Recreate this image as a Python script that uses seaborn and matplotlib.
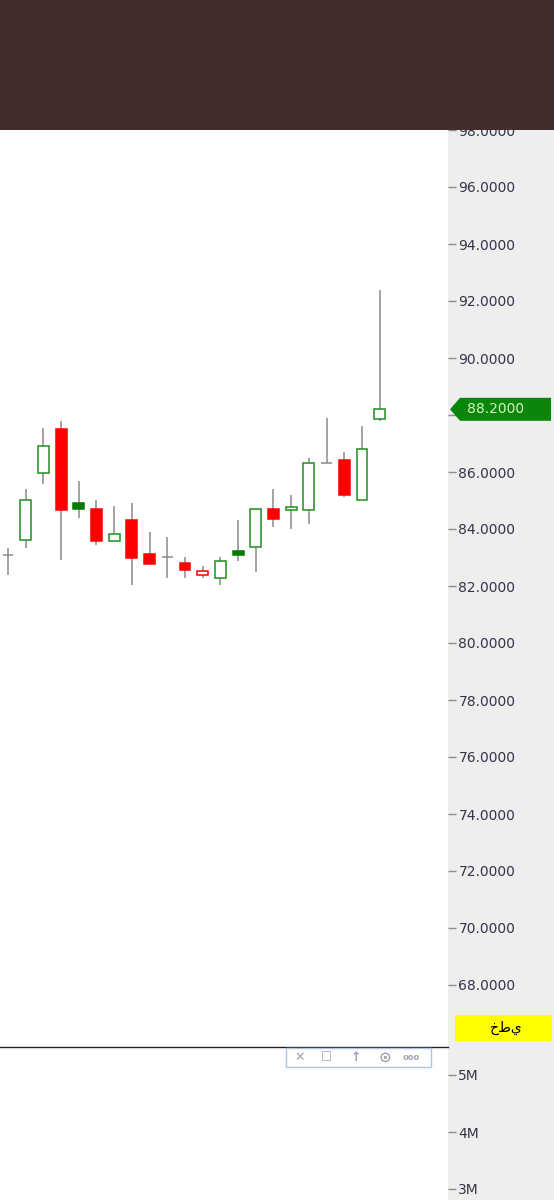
import numpy as np
import matplotlib
matplotlib.use('Agg')
import matplotlib.pyplot as plt
import matplotlib.transforms as mtransforms
from matplotlib.patches import Rectangle, Polygon
import seaborn as sns

opens = [83.09, 83.61, 85.96, 87.51, 84.91, 84.70, 83.58, 84.32, 83.12, 83.02, 82.81,
         82.39, 82.28, 83.23, 83.37, 84.70, 84.67, 84.67, 86.32, 86.42, 85.02, 87.86]
closes = [83.09, 85.02, 86.91, 84.65, 84.70, 83.58, 83.82, 82.98, 82.77, 83.02, 82.56,
          82.53, 82.88, 83.09, 84.70, 84.35, 84.77, 86.32, 86.32, 85.19, 86.81, 88.20]
highs = [83.33, 85.40, 87.54, 87.79, 85.68, 85.02, 84.81, 84.91, 83.89, 83.72, 83.02,
         82.70, 83.02, 84.32, 84.70, 85.40, 85.19, 86.49, 87.89, 86.70, 87.61, 92.39]
lows = [82.39, 83.33, 85.58, 82.91, 84.39, 83.44, 83.58, 82.04, 82.77, 82.28, 82.28,
        82.28, 82.04, 82.88, 82.49, 84.07, 84.00, 84.18, 86.32, 85.12, 85.02, 87.79]
price_ticks = list(range(68, 100, 2))
volume_ticks = [3e6, 4e6, 5e6]
volume_labels = ['3M', '4M', '5M']
chart_type_label = 'خطي'

W, H = 554, 1200
sns.set_style('white')
plt.rcParams['font.family'] = ['DejaVu Sans']

fig = plt.figure(figsize=(W / 100, H / 100), dpi=100, facecolor='#eeeeee')

def fx(x):
    return x / W

def fy(y):
    return 1 - y / H

## price pane
ax = fig.add_axes([0, fy(1047), fx(448), (1047 - 130) / H])
ax.set_facecolor('white')
o = np.array(opens)
c = np.array(closes)
hi = np.array(highs)
lo = np.array(lows)
x = np.arange(len(o))
prev = np.concatenate([[c[0]], c[:-1]])

green_line = '#1f8f1f'
green_fill = '#007a00'
red = '#ff0000'
wick = '#8a8a8a'
bw = 0.62

ax.vlines(x, lo, hi, color=wick, lw=1.1, zorder=1)
doji = o == c
ax.hlines(c[doji], x[doji] - bw / 2, x[doji] + bw / 2, color=wick, lw=1.1, zorder=2)

body = ~doji
is_green = c >= prev
filled = c < o
faces = []
edges = []
for g, f in zip(is_green, filled):
    col = (green_fill if f else green_line) if g else red
    edges.append(col)
    faces.append(col if f else 'white')
faces = np.array(faces)
edges = np.array(edges)
ax.bar(x[body], np.abs(c - o)[body], bottom=np.minimum(o, c)[body], width=bw,
       facecolor=faces[body], edgecolor=edges[body], linewidth=1.1, zorder=3)

last = closes[-1]
hh = 11.5 / 28.5

ax.set_xlim(-8 / 17.7, 440 / 17.7)
ax.set_ylim(98 - (1047 - 130) / 28.5, 98)
ax.set_yticks(price_ticks)
# the tick under the last price tag is hidden by the tag
ax.set_yticklabels(['' if abs(t - last) < 2 * hh else '%.4f' % t for t in price_ticks])
ax.yaxis.tick_right()
ax.tick_params(axis='y', length=6, width=1, color='#8c8c8c', labelcolor='#34344a',
               labelsize=10, pad=1.5, right=True)
ax.set_xticks([])
for s in ax.spines.values():
    s.set_visible(False)

## last price tag
tr = mtransforms.blended_transform_factory(ax.transAxes, ax.transData)
x0, x1, x2 = 450 / 448, 460 / 448, 551 / 448
tag = Polygon([(x0, last), (x1, last + hh), (x2, last + hh), (x2, last - hh), (x1, last - hh)],
              closed=True, transform=tr, facecolor='#0a870a', edgecolor='none',
              clip_on=False, zorder=5)
ax.add_patch(tag)
ax.text(496 / 448, last, '%.4f' % last, transform=tr, ha='center', va='center',
        fontsize=10, color='#d4f5c0', clip_on=False, zorder=6)

## chart type label
fig.add_artist(Rectangle((fx(455), fy(1041)), fx(97), 26 / H, transform=fig.transFigure,
                         facecolor='#ffff00', edgecolor='none', zorder=4))
fig.text(fx(506), fy(1028), chart_type_label, ha='center', va='center',
         fontsize=10, color='black', zorder=5)

## volume pane
vax = fig.add_axes([0, 0, fx(448), (1200 - 1047) / H])
vax.set_facecolor('white')
vax.set_xlim(ax.get_xlim())
vax.set_ylim(3e6 - 11 / 57 * 1e6, 5e6 + 28 / 57 * 1e6)
vax.set_yticks(volume_ticks)
vax.set_yticklabels(volume_labels)
vax.yaxis.tick_right()
vax.tick_params(axis='y', length=6, width=1, color='#8c8c8c', labelcolor='#34344a',
                labelsize=10, pad=1.5, right=True)
vax.set_xticks([])
for s in vax.spines.values():
    s.set_visible(False)
vax.spines['top'].set_visible(True)
vax.spines['top'].set_color('#222222')
vax.spines['top'].set_linewidth(1.0)

## pane toolbar
fig.add_artist(Rectangle((fx(286), fy(1067)), fx(145), 19 / H, transform=fig.transFigure,
                         facecolor='white', edgecolor='#a9c6e4', lw=1.0, zorder=4))
for xi, sym, fs in [(300, '✕', 9), (327, '☐', 9), (356, '↑', 9), (385, '⊙', 11), (411, 'ooo', 6)]:
    fig.text(fx(xi), fy(1057.5), sym, ha='center', va='center', fontsize=fs,
             color='#a0a4ac', zorder=5, fontweight='bold')

## top header bar
fig.add_artist(Rectangle((0, fy(130)), 1, 130 / H, transform=fig.transFigure,
                         facecolor='#402d2c', edgecolor='none', zorder=10))

fig.savefig('out.png', dpi=100, facecolor=fig.get_facecolor())
